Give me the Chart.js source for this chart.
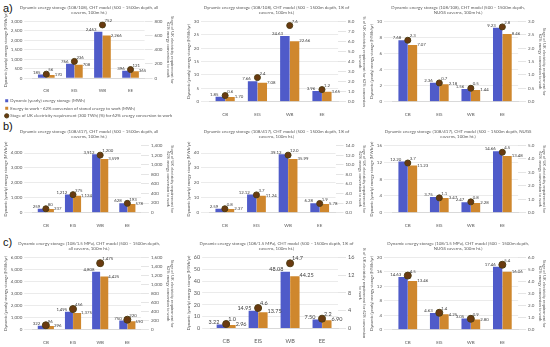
<!DOCTYPE html>
<html>
<head>
<meta charset="utf-8">
<script src="https://cdn.jsdelivr.net/npm/chart.js@4.4.1/dist/chart.umd.min.js"></script>
<style>
  body { margin: 0; background: #fff; }
  #wrap { position: relative; width: 550px; height: 347px; overflow: hidden; }
  canvas { position: absolute; }
  .tag { position: absolute; left: 3px; font: 11px "Liberation Sans", Arial, sans-serif; color: #111; }
</style>
</head>
<body>
<div id="wrap">
  <div class="tag" style="top:2px">a)</div>
  <div class="tag" style="top:120px">b)</div>
  <div class="tag" style="top:236px">c)</div>
  <canvas id="a1" width="178" height="128" style="left:0;top:0"></canvas>
  <canvas id="a2" width="187" height="119" style="left:183px;top:0"></canvas>
  <canvas id="a3" width="184" height="119" style="left:366px;top:0"></canvas>
  <canvas id="b1" width="178" height="106" style="left:0;top:124px"></canvas>
  <canvas id="b2" width="187" height="106" style="left:183px;top:124px"></canvas>
  <canvas id="b3" width="184" height="106" style="left:366px;top:124px"></canvas>
  <canvas id="c1" width="178" height="111" style="left:0;top:236px"></canvas>
  <canvas id="c2" width="187" height="111" style="left:183px;top:236px"></canvas>
  <canvas id="c3" width="184" height="111" style="left:366px;top:236px"></canvas>
</div>
<script>
// categories
const sites = ['CB', 'EIS', 'WB', 'EE'];

// a) 108/108
const storageA1 = [185, 766, 2463, 396];
const workA1 = [170, 708, 2266, 365];
const shareA1 = [56, 236, 752, 121];
const storageA2 = [1.85, 7.66, 24.63, 3.96];
const workA2 = [1.70, 7.08, 22.66, 3.65];
const shareA2 = [0.6, 2.4, 7.6, 1.2];
const storageA3 = [7.68, 2.36, 1.56, 9.23];
const workA3 = [7.07, 2.18, 1.44, 8.46];
const shareA3 = [2.3, 0.7, 0.5, 2.8];

// b) 108/417
const storageB1 = [259, 1212, 3912, 628];
const workB1 = [237, 1124, 3599, 578];
const shareB1 = [80, 375, 1200, 193];
const storageB2 = [2.59, 12.12, 39.12, 6.28];
const workB2 = [2.37, 11.24, 35.99, 5.78];
const shareB2 = [0.8, 3.7, 12.0, 1.9];
const storageB3 = [12.20, 3.75, 2.47, 14.66];
const workB3 = [11.23, 3.47, 2.28, 13.48];
const shareB3 = [3.7, 1.1, 0.8, 4.5];

// c) 108/1.5 MPa
const storageC1 = [322, 1495, 4808, 750];
const workC1 = [296, 1375, 4425, 690];
const shareC1 = [96, 456, 1475, 220];
const storageC2 = [3.22, 14.95, 48.08, 7.50];
const workC2 = [2.96, 13.75, 44.25, 6.90];
const shareC2 = [1.0, 4.6, 14.7, 2.2];
const storageC3 = [14.63, 4.63, 3.05, 17.46];
const workC3 = [13.46, 4.25, 2.80, 16.06];
const shareC3 = [4.5, 1.4, 0.9, 5.4];

const BLUE = '#4f5bc9';
const ORANGE = '#cf872d';
const DOT = '#6a3a10';
const GREY = '#595959';

Chart.defaults.font.family = 'Lato, "Open Sans", sans-serif';
Chart.defaults.color = GREY;
Chart.defaults.animation = false;

const intFmt = v => v.toLocaleString('en-US');
const fix = n => v => v.toFixed(n);

// value labels next to the bars and the dots
const valueLabels = {
  id: 'valueLabels',
  afterDatasetsDraw(chart, args, o) {
    const ctx = chart.ctx;
    ctx.save();
    ctx.font = o.size + 'px Lato, sans-serif';
    ctx.fillStyle = '#404040';
    ctx.textBaseline = 'bottom';
    chart.data.datasets.forEach((ds, i) => {
      chart.getDatasetMeta(i).data.forEach((el, j) => {
        const v = ds.data[j];
        if (i === 0) {
          ctx.textAlign = 'right';
          ctx.fillText(o.barFmt(v), el.x - el.width * 0.2, el.y);
        } else if (i === 1) {
          ctx.textAlign = 'left';
          ctx.fillText(o.barFmt(v), el.x + el.width / 2, el.y + 2);
        } else {
          ctx.textAlign = 'left';
          ctx.fillText(o.dotFmt(v), el.x + 2, el.y - 2);
        }
      });
    });
    ctx.restore();
  }
};

function makePanel(id, title, storage, work, share, o) {
  const tick = { size: o.tick || 4.5 };
  new Chart(document.getElementById(id), {
    type: 'bar',
    data: {
      labels: sites,
      datasets: [
        { label: 'Dynamic (yearly) energy storage (MWh)', data: storage, backgroundColor: BLUE,
          pointStyle: 'rect', categoryPercentage: 0.6, barPercentage: 0.98, yAxisID: 'y' },
        { label: 'Energy to work - 62% conversion of stored energy to work (MWh)', data: work, backgroundColor: ORANGE,
          pointStyle: 'rect', categoryPercentage: 0.6, barPercentage: 0.98, yAxisID: 'y' },
        { type: 'line', label: 'Stage of UK electricity requirement (300 TWh) (%) for 62% energy conversion to work',
          data: share, showLine: false, pointStyle: 'circle', pointRadius: o.dot || 3,
          pointBackgroundColor: DOT, pointBorderColor: '#4f3d12', backgroundColor: DOT, borderColor: DOT,
          order: -1, yAxisID: 'y1' }
      ]
    },
    options: {
      responsive: false,
      devicePixelRatio: 1,
      layout: { padding: { left: 2, right: 2, top: 0, bottom: 0 } },
      plugins: {
        title: { display: true, text: title, color: GREY, font: { size: 4.4, weight: 'normal' },
                 padding: { top: 5, bottom: 6 }, lineHeight: 1.35 },
        legend: o.legend ? {
          display: true, position: 'bottom', align: 'start',
          labels: { usePointStyle: true, boxWidth: 3, boxHeight: 3, padding: 3.2, color: GREY, font: { size: 4.3 },
                    sort: (a, b) => a.datasetIndex - b.datasetIndex }
        } : { display: false },
        tooltip: { enabled: false },
        valueLabels: { size: o.vsize || 4.3, barFmt: o.barFmt, dotFmt: o.dotFmt }
      },
      scales: {
        x: {
          grid: { display: false },
          border: { color: '#d9d9d9' },
          ticks: { font: tick, padding: 2 }
        },
        y: {
          min: 0, max: o.yMax,
          ticks: { stepSize: o.yStep, font: tick, padding: 2, callback: o.yFmt || (v => intFmt(v)) },
          grid: { color: '#dedede', lineWidth: 0.6 },
          border: { display: false },
          title: { display: true, text: o.yTitle, font: { size: 4 }, padding: 1 }
        },
        y1: {
          position: 'right', min: 0, max: o.y1Max,
          ticks: { stepSize: o.y1Step, font: tick, padding: 2, callback: o.y1Fmt || (v => intFmt(v)) },
          grid: { drawOnChartArea: false },
          border: { display: false },
          title: { display: true, text: o.y1Title, font: { size: 4 }, padding: 1 }
        }
      }
    },
    plugins: [valueLabels]
  });
}

const leftTitle = 'Dynamic (yearly) energy storage (MWh/yr)';
const rightAll = ['Stage of UK electricity requirement for', '62% energy conversion to work'];
const rightPct = ['% of UK electricity requirement for 62% conversion', 'to work'];

makePanel('a1', ['Dynamic energy storage (108/108), CHT model (500 \u2013 1500m depth, all', 'caverns, 100m ht.)'],
  storageA1, workA1, shareA1,
  { yMax: 3000, yStep: 500, y1Max: 800, y1Step: 100, barFmt: intFmt, dotFmt: intFmt,
    yTitle: leftTitle, y1Title: rightAll, legend: true });
makePanel('a2', ['Dynamic energy storage (108/108), CHT model (500 \u2013 1500m depth, 1% of', 'caverns, 100m ht.)'],
  storageA2, workA2, shareA2,
  { yMax: 30, yStep: 5, y1Max: 8, y1Step: 1, y1Fmt: fix(1), barFmt: fix(2), dotFmt: fix(1),
    yTitle: leftTitle, y1Title: rightPct });
makePanel('a3', ['Dynamic energy storage (108/108), CHT model (500 \u2013 1500m depth,', 'NUGS caverns, 100m ht.)'],
  storageA3, workA3, shareA3,
  { yMax: 10, yStep: 1, y1Max: 3, y1Step: 0.5, y1Fmt: fix(1), barFmt: fix(2), dotFmt: fix(1),
    yTitle: leftTitle, y1Title: rightAll });

makePanel('b1', ['Dynamic energy storage (108/417), CHT model (500 \u2013 1500m depth, all', 'caverns, 100m ht.)'],
  storageB1, workB1, shareB1,
  { yMax: 4500, yStep: 500, y1Max: 1400, y1Step: 200, barFmt: intFmt, dotFmt: intFmt,
    yTitle: leftTitle, y1Title: rightAll });
makePanel('b2', ['Dynamic energy storage (108/417), CHT model (500 \u2013 1500m depth, 1% of', 'caverns, 100m ht.)'],
  storageB2, workB2, shareB2,
  { yMax: 45, yStep: 5, y1Max: 14, y1Step: 2, y1Fmt: fix(1), barFmt: fix(2), dotFmt: fix(1),
    yTitle: leftTitle, y1Title: rightAll });
makePanel('b3', ['Dynamic energy storage (108/417), CHT model (500 \u2013 1500m depth, NUGS', 'caverns, 100m ht.)'],
  storageB3, workB3, shareB3,
  { yMax: 16, yStep: 2, y1Max: 5, y1Step: 0.5, y1Fmt: fix(1), barFmt: fix(2), dotFmt: fix(1),
    yTitle: leftTitle, y1Title: rightAll });

makePanel('c1', ['Dynamic energy storage (108/1.5 MPa), CHT model (500 \u2013 1500m depth,', 'all caverns, 100m ht.)'],
  storageC1, workC1, shareC1,
  { yMax: 6000, yStep: 1000, y1Max: 1600, y1Step: 200, barFmt: intFmt, dotFmt: intFmt, dot: 3.5,
    yTitle: leftTitle, y1Title: rightAll });
makePanel('c2', ['Dynamic energy storage (108/1.5 MPa), CHT model (500 \u2013 1500m depth, 1% of', 'caverns, 100m ht.)'],
  storageC2, workC2, shareC2,
  { yMax: 60, yStep: 10, y1Max: 16, y1Step: 2, barFmt: fix(2), dotFmt: fix(1), dot: 3.5, tick: 5.5, vsize: 5.5,
    yTitle: leftTitle, y1Title: rightPct });
makePanel('c3', ['Dynamic energy storage (108/1.5 MPa), CHT model (500 \u2013 1500m depth,', 'NUGS caverns, 100m ht.)'],
  storageC3, workC3, shareC3,
  { yMax: 20, yStep: 2, y1Max: 6, y1Step: 1, y1Fmt: fix(1), barFmt: fix(2), dotFmt: fix(1), dot: 3.5,
    yTitle: leftTitle, y1Title: rightAll });
</script>
</body>
</html>
